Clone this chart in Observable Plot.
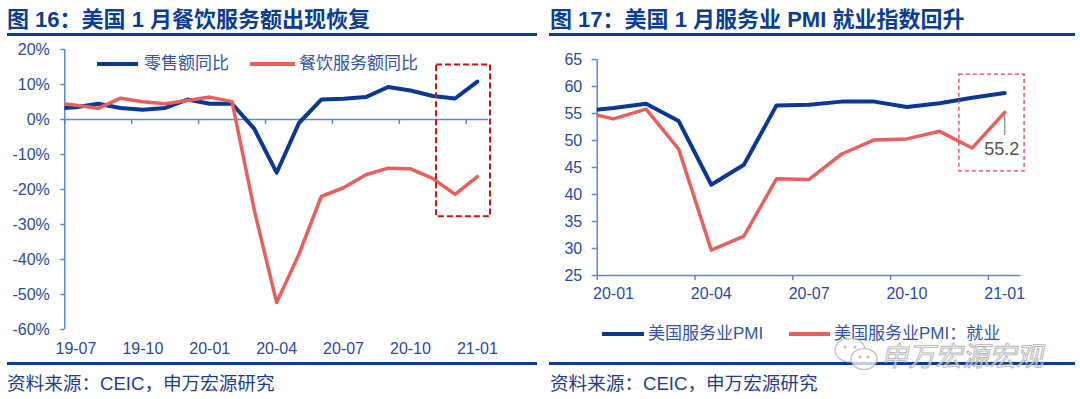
<!DOCTYPE html>
<html><head><meta charset="utf-8">
<script src="https://cdn.jsdelivr.net/npm/d3@7"></script>
<script src="https://cdn.jsdelivr.net/npm/@observablehq/plot@0.6"></script>
<style>
html,body{margin:0;padding:0;background:#fff;}
#root{position:relative;width:1080px;height:399px;overflow:hidden;background:#fff;}
.title{position:absolute;top:6px;font-family:"Liberation Sans","Noto Sans CJK SC",sans-serif;font-weight:700;font-size:22px;color:#0b3d91;white-space:nowrap;line-height:28px;}
.hr{position:absolute;height:3px;background:#0d3c92;}
.src{position:absolute;top:373px;font-family:"Liberation Sans","Noto Sans CJK SC",sans-serif;font-size:18.6px;color:#1f3d8f;line-height:22px;white-space:nowrap;}
.leg{position:absolute;font-family:"Liberation Sans","Noto Sans CJK SC",sans-serif;font-size:17px;color:#3453a8;white-space:nowrap;line-height:20px;}
.sw{position:absolute;height:4px;}
.plot{position:absolute;}
</style></head>
<body>
<div id="root">
  <div class="title" style="left:7px">图 16：美国 1 月餐饮服务额出现恢复</div>
  <div class="hr" style="left:7px;width:530px;top:33px"></div>
  <div class="title" style="left:550px">图 17：美国 1 月服务业 PMI 就业指数回升</div>
  <div class="hr" style="left:549px;width:526px;top:33px"></div>
  <div id="left" class="plot" style="left:0;top:36px"></div>
  <div id="right" class="plot" style="left:540px;top:36px"></div>
  <div id="legL"></div>
  <div id="legR"></div>
  <div class="hr" style="left:7px;width:530px;top:362px"></div>
  <div class="hr" style="left:549px;width:526px;top:362px"></div>
  <div class="src" style="left:7px">资料来源：CEIC，申万宏源研究</div>
  <div class="src" style="left:550px">资料来源：CEIC，申万宏源研究</div>
  <svg id="wm" style="position:absolute;left:832px;top:334px;opacity:0.75;overflow:visible" width="240" height="44">
    <g fill="#fff" stroke="#a8a8a8" stroke-width="1.2">
      <ellipse cx="18" cy="16" rx="15" ry="12"/>
      <ellipse cx="32" cy="25" rx="13" ry="10.5"/>
    </g>
    <g fill="#a8a8a8"><circle cx="13" cy="13" r="1.6"/><circle cx="23" cy="13" r="1.6"/><circle cx="28" cy="23" r="1.4"/><circle cx="36" cy="23" r="1.4"/></g>
    <text x="56" y="32" font-family="Noto Sans CJK SC" font-size="27" fill="#f2f2f2" stroke="#9c9c9c" stroke-width="0.9" transform="skewX(-12)">申万宏源宏观</text>
  </svg>
</div>
<script>
// ---------- data: figure 16 ----------
const leftMonths = ["19-06","19-07","19-08","19-09","19-10","19-11","19-12","20-01","20-02","20-03","20-04","20-05","20-06","20-07","20-08","20-09","20-10","20-11","20-12","21-01"];
const retailYoY = [3.1,3.5,4.5,3.3,2.8,3.3,5.7,4.5,4.5,-2.7,-15.2,-1.0,5.7,5.9,6.4,9.3,8.3,6.7,6.0,10.8];
const foodYoY   = [4.9,4.1,3.2,6.1,5.1,4.5,5.4,6.4,5.1,-26.0,-52.3,-38.5,-22.0,-19.5,-15.8,-13.9,-14.1,-16.8,-21.4,-16.3];
const leftTickLabels = ["19-07","19-10","20-01","20-04","20-07","20-10","21-01"];
const leftYTicks = [20,10,0,-10,-20,-30,-40,-50,-60];
const leftSeriesNames = ["零售额同比","餐饮服务额同比"];
const leftBox = [{m1: 16.17, m2: 18.59, v1: 15.6, v2: -27.8}];

// ---------- data: figure 17 ----------
const rightMonths = ["19-12","20-01","20-02","20-03","20-04","20-05","20-06","20-07","20-08","20-09","20-10","20-11","20-12","21-01"];
const servicesPMI = [55.4,56.0,56.8,53.6,41.8,45.5,56.5,56.6,57.2,57.2,56.2,56.9,57.9,58.8];
const servicesEmp = [55.4,54.0,55.8,48.4,29.7,32.3,42.9,42.8,47.5,50.1,50.3,51.7,48.6,55.2];
const rightTickLabels = ["20-01","20-04","20-07","20-10","21-01"];
const rightYTicks = [65,60,55,50,45,40,35,30,25];
const rightSeriesNames = ["美国服务业PMI","美国服务业PMI：就业"];
const rightBox = [{m1: 10.61, m2: 12.61, v1: 62.2, v2: 44.3}];

// ---------- styles ----------
const BLUE = "#0a3894", RED = "#e8605e", AXIS = "#5b87d9", TXT = "#2a4aa3";
const font = {fontFamily: "'Liberation Sans', Arial, sans-serif", fontSize: "16px", background: "transparent", overflow: "visible"};

// index: first visible month = 0
const leftData = leftMonths.map((m, i) => ({m, i: i - 1, retail: retailYoY[i], food: foodYoY[i]}));
const leftLabIdx = leftTickLabels.map(l => leftMonths.indexOf(l) - 1);
const leftBounds = leftLabIdx.map(i => i - 0.5);
const leftN = leftMonths.length - 1;

const left = Plot.plot({
  width: 540, height: 320,
  marginLeft: 64.3, marginRight: 52, marginTop: 13, marginBottom: 27,
  x: {domain: [-0.5, leftN - 0.5]},
  y: {domain: [-60, 20]},
  style: font,
  marks: [
    Plot.ruleY([0], {stroke: AXIS, strokeWidth: 1.5}),
    Plot.ruleX(leftBounds, {x: d => d, y1: 0, y2: 0, insetBottom: -5, stroke: AXIS, strokeWidth: 1.5}),
    Plot.ruleX([-0.5], {stroke: AXIS, strokeWidth: 1.5}),
    Plot.axisY({ticks: leftYTicks, tickFormat: d => d + "%", tickSize: 4, tickPadding: 11, stroke: AXIS, strokeWidth: 1.5, fill: TXT, fontSize: 16, label: null}),
    Plot.axisX({ticks: leftLabIdx, tickFormat: i => leftMonths[i + 1], tickSize: 0, tickPadding: 13, fill: TXT, fontSize: 16, label: null}),
    Plot.line(leftData, {x: "i", y: "retail", stroke: BLUE, strokeWidth: 4, clip: true}),
    Plot.line(leftData, {x: "i", y: "food", stroke: RED, strokeWidth: 3.5, clip: true}),
    Plot.rect(leftBox, {x1: "m1", x2: "m2", y1: "v1", y2: "v2", fill: "none", stroke: "#cc1111", strokeWidth: 2, strokeDasharray: "6,3"})
  ]
});
document.getElementById("left").appendChild(left);

const rightData = rightMonths.map((m, i) => ({m, i: i - 1, pmi: servicesPMI[i], emp: servicesEmp[i]}));
const rightLabIdx = rightTickLabels.map(l => rightMonths.indexOf(l) - 1);
const rightBounds = rightLabIdx.map(i => i - 0.5);
const rightN = rightMonths.length - 1;
const lastEmp = rightData[rightData.length - 1];

const right = Plot.plot({
  width: 540, height: 270,
  marginLeft: 56.7, marginRight: 59.5, marginTop: 23, marginBottom: 31,
  x: {domain: [-0.5, rightN - 0.5]},
  y: {domain: [25, 65]},
  style: font,
  marks: [
    Plot.ruleY([25], {stroke: AXIS, strokeWidth: 1.5}),
    Plot.ruleX(rightBounds, {x: d => d, y1: 25, y2: 25, insetBottom: -5, stroke: AXIS, strokeWidth: 1.5}),
    Plot.ruleX([-0.5], {stroke: AXIS, strokeWidth: 1.5}),
    Plot.axisY({ticks: rightYTicks, tickSize: 5, tickPadding: 10, stroke: AXIS, strokeWidth: 1.5, fill: TXT, fontSize: 16, label: null}),
    Plot.axisX({ticks: rightLabIdx, tickFormat: i => rightMonths[i + 1], tickSize: 0, tickPadding: 12, fill: TXT, fontSize: 16, label: null}),
    Plot.line(rightData, {x: "i", y: "emp", stroke: RED, strokeWidth: 3.5, clip: true}),
    Plot.line(rightData, {x: "i", y: "pmi", stroke: BLUE, strokeWidth: 4, clip: true}),
    Plot.ruleX([lastEmp], {x: "i", y1: "emp", y2: "emp", insetTop: 3, insetBottom: -23, stroke: "#9a9a9a", strokeWidth: 1.5}),
    Plot.text([lastEmp], {x: "i", y: "emp", text: d => d.emp.toFixed(1), dy: 37, dx: -3, fill: "#555", fontSize: 18}),
    Plot.rect(rightBox, {x1: "m1", x2: "m2", y1: "v1", y2: "v2", fill: "none", stroke: "#e2404c", strokeWidth: 1.3, strokeDasharray: "4,3"})
  ]
});
document.getElementById("right").appendChild(right);

// legends
function legend(el, items) {
  el.innerHTML = items.map(it =>
    `<div class="sw" style="left:${it.sx}px;top:${it.y - 2}px;width:${it.sw}px;background:${it.c}"></div>` +
    `<div class="leg" style="left:${it.tx}px;top:${it.y - 10}px">${it.t}</div>`).join("");
}
legend(document.getElementById("legL"), [
  {sx: 97, sw: 41, tx: 144, y: 64, c: BLUE, t: leftSeriesNames[0]},
  {sx: 250, sw: 45, tx: 299, y: 64, c: RED, t: leftSeriesNames[1]}
]);
legend(document.getElementById("legR"), [
  {sx: 602, sw: 42, tx: 648, y: 334, c: BLUE, t: rightSeriesNames[0]},
  {sx: 789, sw: 41, tx: 834, y: 334, c: RED, t: rightSeriesNames[1]}
]);
</script>
</body></html>
